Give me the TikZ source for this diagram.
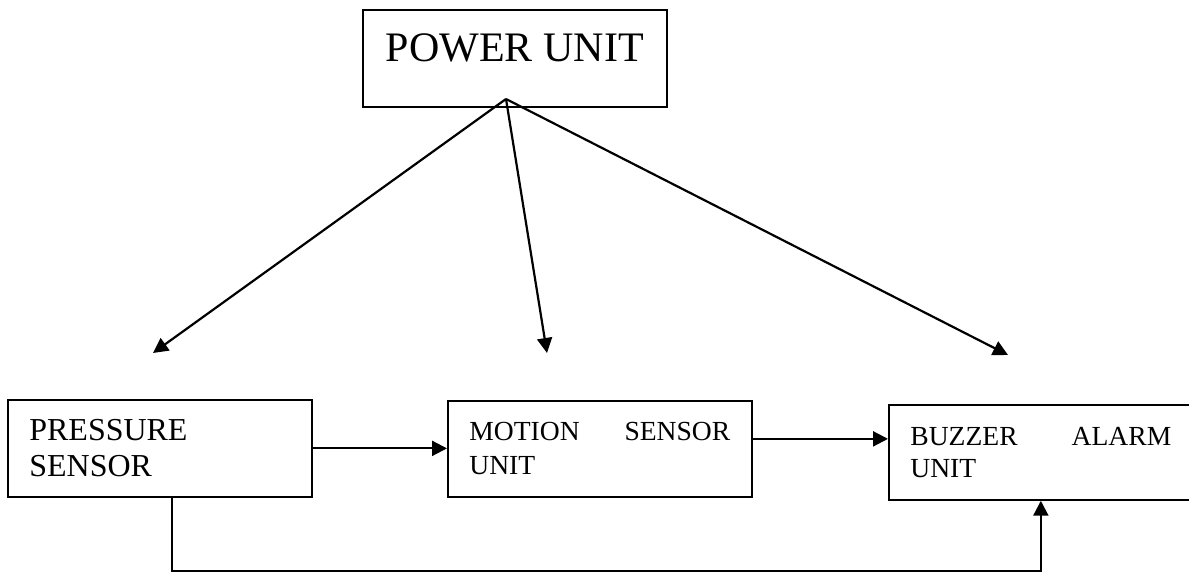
\documentclass[tikz,border=0pt]{standalone}
\usepackage{fontspec}
\setmainfont{Liberation Serif}
\usetikzlibrary{arrows.meta}

\tikzset{
  unitbox/.style={draw, line width=1pt, anchor=north west, inner ysep=0pt},
  sensorbox/.style={unitbox, align=left, text width=5.22cm, inner xsep=0.43cm},
  flow/.style={line width=1.25pt, -{Triangle[length=0.3cm,width=0.3cm]}},
}

\begin{document}
\begin{tikzpicture}[x=0.02cm, y=-0.02cm]
  \useasboundingbox (0,0) rectangle (1189,577);

  % blocks
  \node[unitbox, minimum width=6.08cm, minimum height=1.94cm, text depth=0.42cm,
        font=\fontsize{23.9}{28}\selectfont] (power) at (362,9) {POWER UNIT};
  \node[sensorbox, minimum height=1.94cm,
        font=\fontsize{18.2}{20.5}\selectfont] (pressure) at (7,399) {PRESSURE\\SENSOR};
  \node[sensorbox, minimum height=1.92cm,
        font=\fontsize{15.7}{19.3}\selectfont] (motion) at (447,400) {MOTION\hfill SENSOR\\UNIT};
  \node[sensorbox, minimum height=1.9cm,
        font=\fontsize{15.7}{18.4}\selectfont] (buzzer) at (888,404) {BUZZER\hfill ALARM\\UNIT};

  % supply lines
  \coordinate (tap) at (506,99);
  \coordinate (p-in) at (153,353);
  \coordinate (m-in) at (547,353);
  \coordinate (b-in) at (1008,355);
  \draw[flow] (tap) -- (p-in);
  \draw[flow] (tap) -- (m-in);
  \draw[flow] (tap) -- (b-in);

  % signal lines
  \draw[flow] (pressure.east) -- (motion.west |- pressure.east);
  \coordinate (m-out) at ([yshift=0.2cm]motion.east);
  \draw[flow] (m-out) -- (m-out -| buzzer.west);
  \coordinate (fb) at (172,571);
  \draw[flow] (fb |- pressure.south) -- (fb) -| (buzzer.south);
\end{tikzpicture}
\end{document}
